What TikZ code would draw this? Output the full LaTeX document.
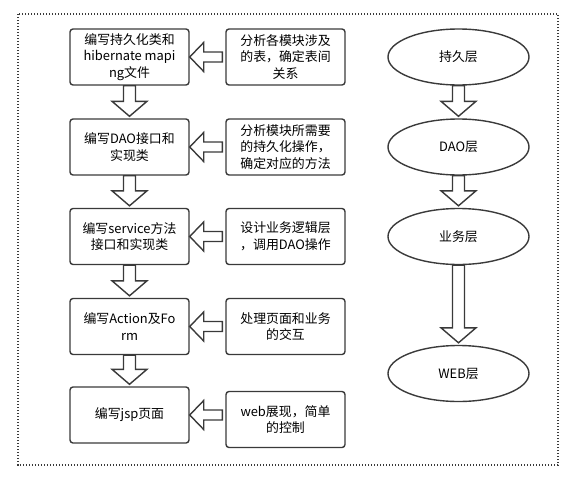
\documentclass[tikz,border=0pt]{standalone}
\usepackage{fontspec}
\setmainfont{Noto Sans CJK SC}
\usepackage{tikz}
\usetikzlibrary{calc,shapes.geometric}
\definecolor{borde}{RGB}{58,58,58}

\begin{document}
\begin{tikzpicture}[x=1pt, y=-1pt, line width=1.4pt,
    every node/.style={font=\fontsize{12.9}{16.7}\selectfont, text=black},
    caja/.style={draw=borde, rounded corners=3pt, minimum width=119pt, minimum height=56pt, align=center, inner sep=2pt},
    capa/.style={draw=borde, ellipse, minimum width=141pt, minimum height=56pt, inner sep=0pt},
    flecha/.style={draw=borde, fill=white, line join=miter}]
    \useasboundingbox (0,0) rectangle (578,485);
    \draw[borde, line width=1.2pt, dash pattern=on 1.4pt off 1.6pt] (18,14) rectangle (558,465);
    % pasos
    \node[caja] (l1) at (129.5,57) {编写持久化类和\\hibernate mapi\\ng文件};
    \node[caja] (l2) at (129.5,147) {编写DAO接口和\\实现类};
    \node[caja] (l3) at (129.5,236.5) {编写service方法\\接口和实现类};
    \node[caja] (l4) at (129.5,326.5) {编写Action及Fo\\rm};
    \node[caja] (l5) at (129.5,415) {编写jsp页面};
    % notas
    \node[caja] (r1) at (285.5,57) {分析各模块涉及\\的表，确定表间\\关系};
    \node[caja] (r2) at (285.5,147) {分析模块所需要\\的持久化操作，\\确定对应的方法};
    \node[caja] (r3) at (285.5,236.5) {设计业务逻辑层\\，调用DAO操作};
    \node[caja] (r4) at (285.5,326.5) {处理页面和业务\\的交互};
    \node[caja] (r5) at (285.5,419.5) {web展现，简单\\的控制};
    % capas
    \node[capa] (e1) at (458.5,57) {持久层};
    \node[capa] (e2) at (458.5,147) {DAO层};
    \node[capa] (e3) at (458.5,236.5) {业务层};
    \node[capa] (e4) at (458.5,373.5) {WEB层};
    % flechas
    \foreach \i in {1,...,5}
        \draw[flecha] ($(l\i.east -| r\i.west)+(-3,-5)$) -- ($(l\i.east)+(14,-5)$) -- ($(l\i.east)+(14,-14.5)$)
            -- (l\i.east) -- ($(l\i.east)+(14,14.5)$) -- ($(l\i.east)+(14,5)$) -- ($(l\i.east -| r\i.west)+(-3,5)$) -- cycle;
    \foreach \a/\b in {l1/l2,l2/l3,l3/l4,l4/l5,e1/e2,e2/e3,e3/e4}
        \draw[flecha] ($(\a.south)+(-6,0)$) -- ($(\b.north)+(-6,-17)$) -- ($(\b.north)+(-17.5,-17)$) -- ($(\b.north)+(0,-2)$)
            -- ($(\b.north)+(17.5,-17)$) -- ($(\b.north)+(6,-17)$) -- ($(\a.south)+(6,0)$) -- cycle;
\end{tikzpicture}
\end{document}
